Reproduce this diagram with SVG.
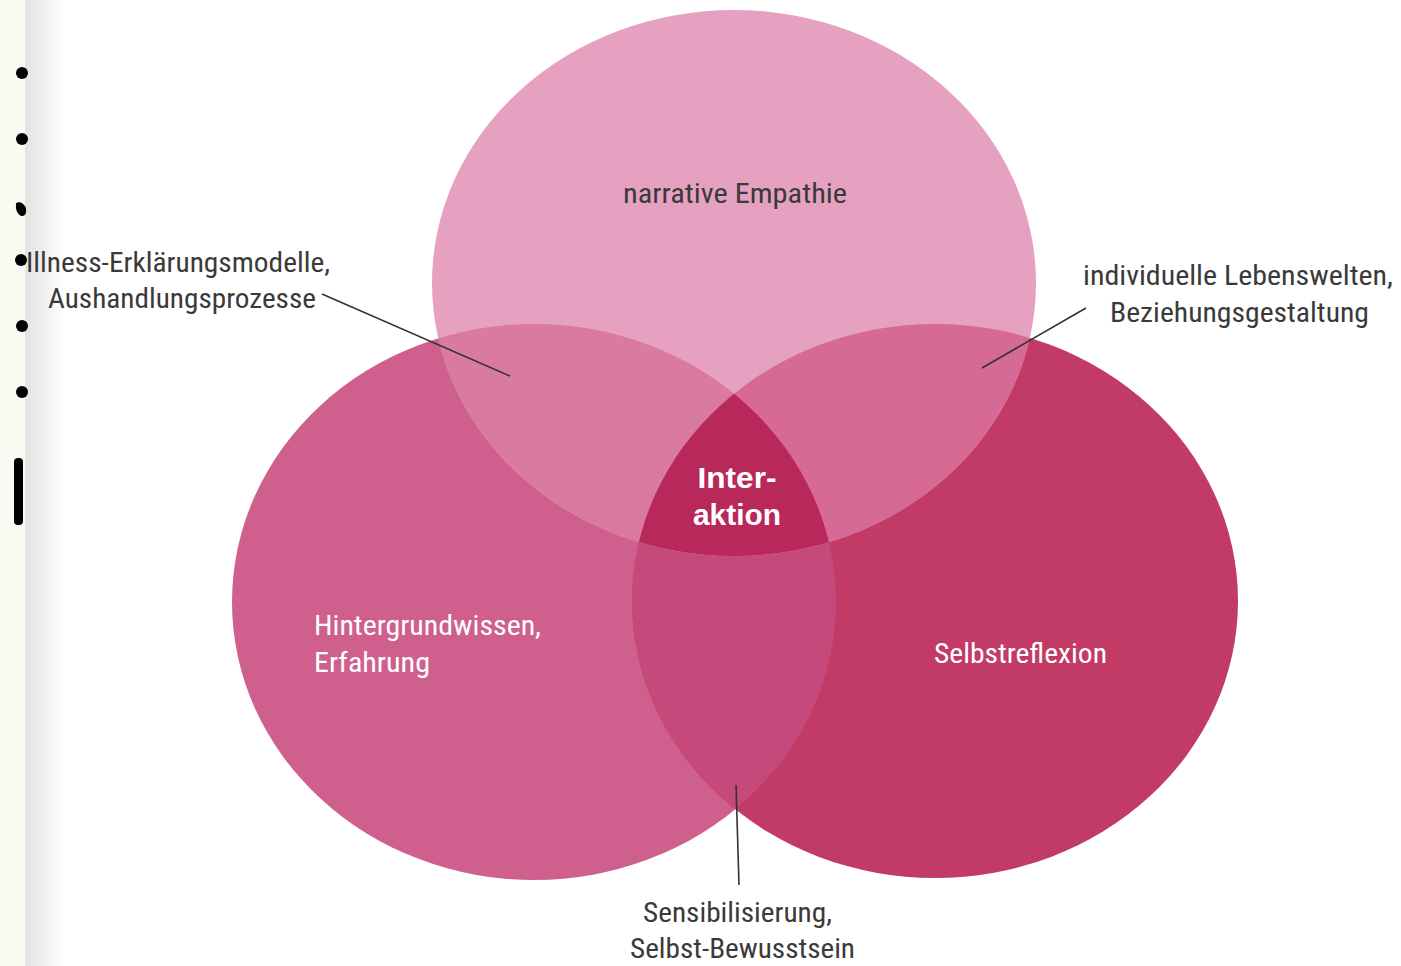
<svg xmlns="http://www.w3.org/2000/svg" width="1401" height="966" viewBox="0 0 1401 966">
  <style>
    .lbl { font-family: "Liberation Sans Narrow", "Roboto Condensed", "Liberation Sans", sans-serif; font-size: 27px; fill: #3a3a3a; }
    .in { font-family: "Liberation Sans Narrow", "Roboto Condensed", "Liberation Sans", sans-serif; font-size: 27px; fill: #ffffff; }
    .bold { font-family: "Liberation Sans", "DejaVu Sans", sans-serif; font-weight: bold; font-size: 29px; fill: #ffffff; }
    .con { stroke: #333333; stroke-width: 1.6; fill: none; }
    .dot { fill: #000000; }
  </style>
  <defs>
    <ellipse id="eT" cx="734" cy="283" rx="302" ry="273"/>
    <ellipse id="eL" cx="534" cy="602" rx="302" ry="278"/>
    <ellipse id="eR" cx="935" cy="601" rx="303" ry="277"/>
    <clipPath id="cL"><use href="#eL"/></clipPath>
    <clipPath id="cR"><use href="#eR"/></clipPath>
    <linearGradient id="shade" x1="0" y1="0" x2="1" y2="0">
      <stop offset="0" stop-color="#e2e2e2"/>
      <stop offset="1" stop-color="#ffffff"/>
    </linearGradient>
  </defs>

  <rect x="0" y="0" width="1401" height="966" fill="#ffffff"/>
  <rect x="25" y="0" width="40" height="966" fill="url(#shade)"/>
  <rect x="0" y="0" width="25" height="966" fill="#fbfbf3"/>

  <g id="margin-marks">
    <circle class="dot" cx="22" cy="73" r="6"/>
    <circle class="dot" cx="22" cy="139" r="6"/>
    <path class="dot" d="M16,203 Q22,200 26,208 Q27,217 21,216 Q15,213 16,203 Z"/>
    <circle class="dot" cx="21" cy="260" r="6"/>
    <circle class="dot" cx="22" cy="326" r="6"/>
    <circle class="dot" cx="22" cy="392" r="6"/>
    <rect class="dot" x="14" y="458" width="9" height="67" rx="4"/>
  </g>

  <g id="node-left">
    <use href="#eL" fill="#cf608d"/>
  </g>
  <g id="node-right">
    <use href="#eR" fill="#c23a66"/>
  </g>
  <g id="overlap-left-right">
    <use href="#eL" fill="#c5497a" clip-path="url(#cR)"/>
  </g>
  <g id="node-top">
    <use href="#eT" fill="#e7a1c0"/>
  </g>
  <g id="overlap-top-left">
    <use href="#eT" fill="#d97aa1" clip-path="url(#cL)"/>
  </g>
  <g id="overlap-top-right">
    <use href="#eT" fill="#d66a94" clip-path="url(#cR)"/>
  </g>
  <g id="node-center">
    <g clip-path="url(#cR)">
      <use href="#eT" fill="#b8285b" clip-path="url(#cL)"/>
    </g>
    <text class="bold" x="737" y="488" text-anchor="middle" textLength="79" lengthAdjust="spacingAndGlyphs">Inter-</text>
    <text class="bold" x="737" y="525" text-anchor="middle" textLength="88" lengthAdjust="spacingAndGlyphs">aktion</text>
  </g>

  <g id="label-top">
    <text class="lbl" x="623" y="203" textLength="224" lengthAdjust="spacingAndGlyphs">narrative Empathie</text>
  </g>
  <g id="label-left">
    <text class="in" x="314" y="635" textLength="227" lengthAdjust="spacingAndGlyphs">Hintergrundwissen,</text>
    <text class="in" x="314" y="672" textLength="116" lengthAdjust="spacingAndGlyphs">Erfahrung</text>
  </g>
  <g id="label-right">
    <text class="in" x="934" y="663" textLength="173" lengthAdjust="spacingAndGlyphs">Selbstreflexion</text>
  </g>
  <g id="label-top-left">
    <text class="lbl" x="26" y="272" textLength="304" lengthAdjust="spacingAndGlyphs">Illness-Erklärungsmodelle,</text>
    <text class="lbl" x="48" y="308" textLength="268" lengthAdjust="spacingAndGlyphs">Aushandlungsprozesse</text>
  </g>
  <g id="label-top-right">
    <text class="lbl" x="1083" y="285" textLength="310" lengthAdjust="spacingAndGlyphs">individuelle Lebenswelten,</text>
    <text class="lbl" x="1110" y="322" textLength="259" lengthAdjust="spacingAndGlyphs">Beziehungsgestaltung</text>
  </g>
  <g id="label-bottom">
    <text class="lbl" x="643" y="922" textLength="189" lengthAdjust="spacingAndGlyphs">Sensibilisierung,</text>
    <text class="lbl" x="630" y="958" textLength="225" lengthAdjust="spacingAndGlyphs">Selbst-Bewusstsein</text>
  </g>

  <g id="connectors">
    <line class="con" x1="322" y1="294" x2="510" y2="376"/>
    <line class="con" x1="1086" y1="308" x2="982" y2="368"/>
    <line class="con" x1="736" y1="785" x2="739" y2="885"/>
  </g>
</svg>
